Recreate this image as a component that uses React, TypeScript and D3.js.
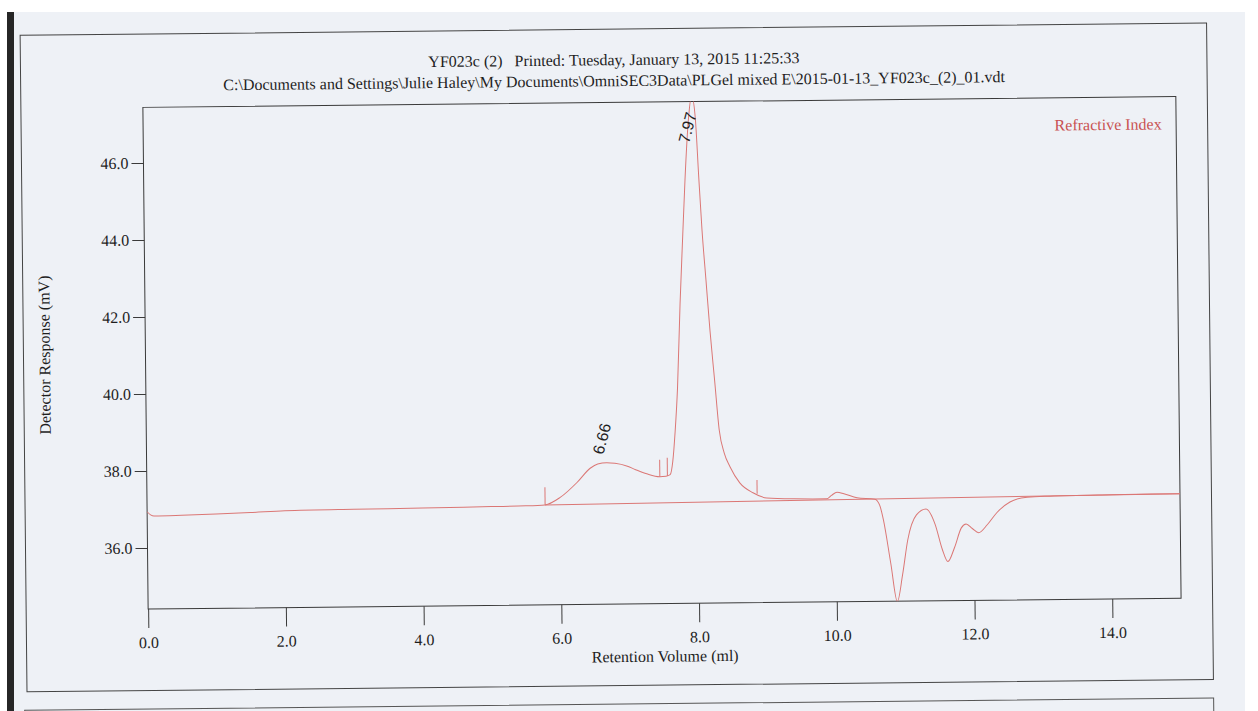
import * as d3 from "d3";
import { useEffect, useRef } from "react";

// trace (retention volume in ml, detector response in mV)
const volume = [
  0.0, 0.05, 0.1, 0.5, 1.0, 1.5, 2.0, 3.0, 4.0, 5.0, 5.5, 5.78, 6.0, 6.25, 6.44, 6.55, 6.68, 6.8, 6.97, 7.1,
  7.26, 7.45, 7.54, 7.6, 7.64, 7.68, 7.72, 7.77, 7.82, 7.86, 7.92, 7.97, 8.02, 8.06, 8.1, 8.15, 8.2, 8.26,
  8.32, 8.39, 8.47, 8.61, 8.8, 9.0, 9.4, 9.87, 9.94, 10.02, 10.12, 10.31, 10.57, 10.64, 10.69, 10.79, 10.88,
  10.96, 11.04, 11.17, 11.31, 11.44, 11.54, 11.62, 11.72, 11.82, 11.89, 11.98, 12.07, 12.2, 12.34, 12.53,
  12.78, 13.11, 14.0, 15.0,
];
const response = [
  36.94, 36.86, 36.83, 36.84, 36.86, 36.89, 36.93, 36.95, 36.96, 36.98, 36.99, 37.01, 37.2, 37.59, 37.95,
  38.06, 38.09, 38.07, 38.0, 37.9, 37.79, 37.71, 37.72, 37.76, 38.1, 38.9, 40.0, 42.2, 44.0, 45.4, 47.0,
  47.6, 47.0, 45.5, 44.1, 42.8, 41.5, 40.2, 38.9, 38.3, 37.95, 37.53, 37.27, 37.13, 37.1, 37.09, 37.18,
  37.26, 37.22, 37.11, 37.07, 36.9, 36.53, 35.4, 34.4, 35.1, 36.0, 36.65, 36.8, 36.4, 35.75, 35.43, 35.8,
  36.3, 36.4, 36.28, 36.17, 36.38, 36.69, 36.96, 37.08, 37.1, 37.12, 37.13,
];

// drawn baseline
const baseVolume = [5.78, 15.0];
const baseResponse = [37.01, 37.13];

// integration limit marks
const markVolume = [5.78, 7.45, 7.56, 8.86];
const markLow = [37.01, 37.71, 37.73, 37.24];
const markHigh = [37.47, 38.15, 38.2, 37.6];

// peak labels
const peakVolume = [6.68, 7.97];
const peakResponse = [38.09, 47.6];
const peakText = ["6.66", "7.97"];

const xTicks = [0, 2, 4, 6, 8, 10, 12, 14];
const yTicks = [36, 38, 40, 42, 44, 46];

const titleLine1 = "YF023c (2)\u00a0\u00a0\u00a0Printed: Tuesday, January 13, 2015 11:25:33";
const titleLine2 =
  "C:\\Documents and Settings\\Julie Haley\\My Documents\\OmniSEC3Data\\PLGel mixed E\\2015-01-13_YF023c_(2)_01.vdt";

export default function App() {
  const svgRef = useRef<SVGSVGElement>(null);
  const width = 1258;
  const height = 711;

  useEffect(() => {
    const svg = d3.select(svgRef.current).attr("viewBox", `0 0 ${width} ${height}`);
    svg.selectAll("*").remove();

    const serif = "'Liberation Serif', 'Times New Roman', serif";
    const sans = "'Liberation Sans', Arial, sans-serif";
    const ink = "#1e1e1e";
    const red = "#db7775";

    // scanned page
    svg.append("rect").attr("width", width).attr("height", height).attr("fill", "#ffffff");
    svg.append("rect").attr("x", 14).attr("y", 12).attr("width", 1231).attr("height", height).attr("fill", "#eef1f6");
    svg.append("rect").attr("x", 7).attr("y", 12).attr("width", 7).attr("height", height).attr("fill", "#262626");

    // the scan is slightly tilted
    const page = svg.append("g").attr("transform", "rotate(-0.6, 629, 355)");

    page.append("rect")
      .attr("x", 23.5).attr("y", 29).attr("width", 1186.5).attr("height", 656.5)
      .attr("fill", "none").attr("stroke", "#444").attr("stroke-width", 1);
    page.append("rect")
      .attr("x", 21).attr("y", 704).attr("width", 1189).attr("height", 60)
      .attr("fill", "none").attr("stroke", "#555").attr("stroke-width", 1);

    const left = 145.5, right = 1178.5, top = 102.3, bottom = 604;
    const x = d3.scaleLinear().domain([0, 15]).range([left, right]);
    const y = d3.scaleLinear().domain([34.413, 47.444]).range([bottom, top]);

    // titles
    page.append("text").attr("x", 617).attr("y", 65).attr("text-anchor", "middle")
      .style("font-family", serif).style("font-size", "16px").attr("fill", ink).text(titleLine1);
    page.append("text").attr("x", 617).attr("y", 86).attr("text-anchor", "middle")
      .style("font-family", serif).style("font-size", "16px").attr("fill", ink).text(titleLine2);

    // frame
    page.append("rect")
      .attr("x", left).attr("y", top).attr("width", right - left).attr("height", bottom - top)
      .attr("fill", "none").attr("stroke", "#3a3a3a").attr("stroke-width", 1);

    const xAxis = page.append("g")
      .attr("transform", `translate(0,${bottom})`)
      .call(d3.axisBottom(x).tickValues(xTicks).tickSize(19).tickPadding(20).tickFormat(d3.format(".1f")));
    const yAxis = page.append("g")
      .attr("transform", `translate(${left},0)`)
      .call(d3.axisLeft(y).tickValues(yTicks).tickSize(12).tickPadding(3).tickFormat(d3.format(".1f")));
    [xAxis, yAxis].forEach((a) => {
      a.select(".domain").remove();
      a.selectAll("line").attr("stroke", "#3a3a3a");
      a.selectAll("text").attr("fill", ink).style("font-family", serif).style("font-size", "16px");
    });
    xAxis.selectAll("text").attr("dy", "0").attr("y", 39);

    page.append("text").attr("x", 662).attr("y", 662).attr("text-anchor", "middle")
      .style("font-family", serif).style("font-size", "16px").attr("fill", ink).text("Retention Volume (ml)");
    page.append("text").attr("transform", "translate(50,349) rotate(-90)").attr("text-anchor", "middle")
      .style("font-family", serif).style("font-size", "16px").attr("fill", ink).text("Detector Response (mV)");

    page.append("text").attr("x", 1164).attr("y", 135).attr("text-anchor", "end")
      .style("font-family", serif).style("font-size", "16px").attr("fill", "#c95252").text("Refractive Index");

    // trace
    page.append("clipPath").attr("id", "plot-clip")
      .append("rect").attr("x", left).attr("y", top).attr("width", right - left).attr("height", bottom - top);
    const plot = page.append("g").attr("clip-path", "url(#plot-clip)");

    const line = d3.line<number>()
      .x((_, i) => x(volume[i]))
      .y((d) => y(d))
      .curve(d3.curveMonotoneX);
    plot.append("path").datum(response).attr("d", line)
      .attr("fill", "none").attr("stroke", red).attr("stroke-width", 1);

    const baseLine = d3.line<number>().x((_, i) => x(baseVolume[i])).y((d) => y(d));
    plot.append("path").datum(baseResponse).attr("d", baseLine)
      .attr("fill", "none").attr("stroke", red).attr("stroke-width", 1);

    plot.selectAll("line.mark")
      .data(markVolume)
      .enter()
      .append("line")
      .attr("class", "mark")
      .attr("x1", (d) => x(d)).attr("x2", (d) => x(d))
      .attr("y1", (_, i) => y(markLow[i])).attr("y2", (_, i) => y(markHigh[i]))
      .attr("stroke", red).attr("stroke-width", 1);

    page.selectAll("text.peak")
      .data(peakVolume)
      .enter()
      .append("text")
      .attr("class", "peak")
      .attr("transform", (d, i) => {
        const cx = x(d) - 4.5;
        const cy = Math.max(y(peakResponse[i]) - 24, top + 26);
        return `translate(${cx},${cy}) rotate(-75)`;
      })
      .attr("text-anchor", "middle")
      .attr("dominant-baseline", "central")
      .style("font-family", sans)
      .style("font-size", "16px")
      .attr("fill", ink)
      .text((_, i) => peakText[i]);

    return () => {};
  }, []);

  return <svg ref={svgRef} width={width} height={height} style={{ position: "absolute", left: 0, top: 0, display: "block" }} />;
}
